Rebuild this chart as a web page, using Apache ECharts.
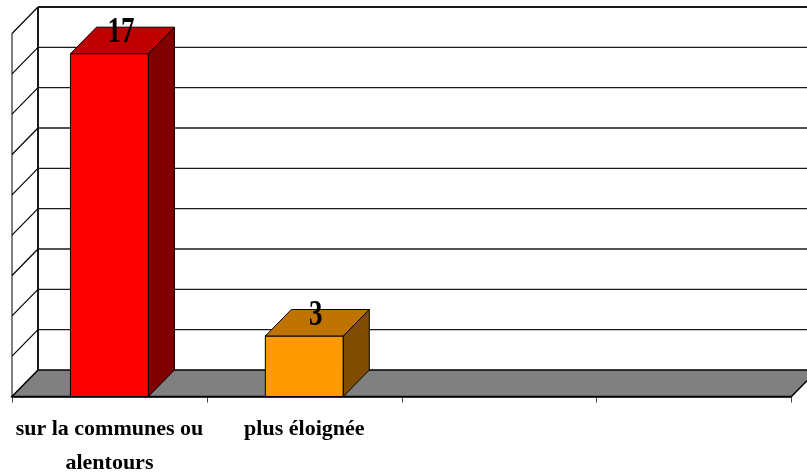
<!DOCTYPE html>
<html>
<head>
<meta charset="utf-8">
<style>html,body{margin:0;padding:0;background:#fff}#c{width:807px;height:474px}</style>
<script src="https://cdn.jsdelivr.net/npm/echarts@6/dist/echarts.min.js"></script>
</head>
<body>
<div id="c"></div>
<script>
var categories = ['sur la communes ou\nalentours', 'plus éloignée', '', ''];
var values = [17, 3];
var frontColors = ['#ff0000', '#ff9900'];
var topColors = ['#bf0000', '#bf7300'];
var sideColors = ['#800000', '#804d00'];
var gridValues = [0, 2, 4, 6, 8, 10, 12, 14, 16, 18];

var DX = 26, DY = -26.5;
var FONT = '"Liberation Serif","Times New Roman",serif';

function poly(points, fill, lw) {
  return { type: 'polygon', shape: { points: points },
    style: { fill: fill, stroke: '#000', lineWidth: lw } };
}
function seg(x1, y1, x2, y2, lw, color) {
  return { type: 'line', shape: { x1: x1, y1: y1, x2: x2, y2: y2 },
    style: { stroke: color || '#1a1a1a', lineWidth: lw } };
}

function renderWalls(params, api) {
  var sys = params.coordSys;
  var v = api.value(1);
  var y = api.coord([0, v])[1];
  var left = sys.x, right = sys.x + sys.width;
  var kids = [];
  if (v === 0) {
    kids.push(poly([[left, y], [right, y], [right + DX, y + DY], [left + DX, y + DY]], '#808080', 1.5));
    kids.push(seg(left, y, left, sys.y, 1, '#000'));
    kids.push(seg(left + DX, y + DY, left + DX, sys.y + DY, 2));
  } else {
    kids.push(seg(left, y, left + DX, y + DY, 1.2, '#000'));
    kids.push(seg(left + DX, y + DY, right + DX, y + DY, v === 18 ? 2 : 1.3));
  }
  return { type: 'group', children: kids };
}

function renderBars(params, api) {
  var i = api.value(0);
  var val = api.value(1);
  var top = api.coord([i, val]);
  var base = api.coord([i, 0]);
  var w = api.size([1, 0])[0] * 0.4;
  var l = top[0] - w / 2, r = top[0] + w / 2;
  return { type: 'group', children: [
    poly([[l, top[1]], [r, top[1]], [r, base[1]], [l, base[1]]], frontColors[i], 1),
    poly([[r, top[1]], [r + DX, top[1] + DY], [r + DX, base[1] + DY], [r, base[1]]], sideColors[i], 1),
    poly([[l, top[1]], [l + DX, top[1] + DY], [r + DX, top[1] + DY], [r, top[1]]], topColors[i], 1),
    { type: 'text', x: top[0] + DX / 2 - 1.5, y: top[1] + DY / 2 - 7.5, scaleX: 0.75, z2: 10,
      style: { x: 0, y: 0, text: String(val), fill: '#000', font: 'bold 36px ' + FONT,
        align: 'center', verticalAlign: 'middle' } }
  ] };
}

var chart = echarts.init(document.getElementById('c'), null, { renderer: 'canvas' });
chart.setOption({
  animation: false,
  backgroundColor: '#fff',
  grid: { left: 12, right: 15.5, top: 33.5, bottom: 77.5, outerBoundsMode: 'none' },
  xAxis: {
    type: 'category', data: categories,
    axisLine: { lineStyle: { color: '#000', width: 1.5 } },
    axisTick: { show: true, length: 6, lineStyle: { color: '#444', width: 1 } },
    axisLabel: { color: '#000', fontFamily: FONT, fontWeight: 'bold', fontSize: 22, lineHeight: 34,
      margin: 16, interval: 0 }
  },
  yAxis: { type: 'value', min: 0, max: 18, interval: 2, show: false },
  series: [
    { type: 'custom', z: 1, renderItem: renderWalls, clip: false, silent: true,
      data: gridValues.map(function (v) { return [0, v]; }) },
    { type: 'custom', z: 2, renderItem: renderBars, clip: false, silent: true,
      data: values.map(function (v, i) { return [i, v]; }) }
  ]
});
</script>
</body>
</html>
